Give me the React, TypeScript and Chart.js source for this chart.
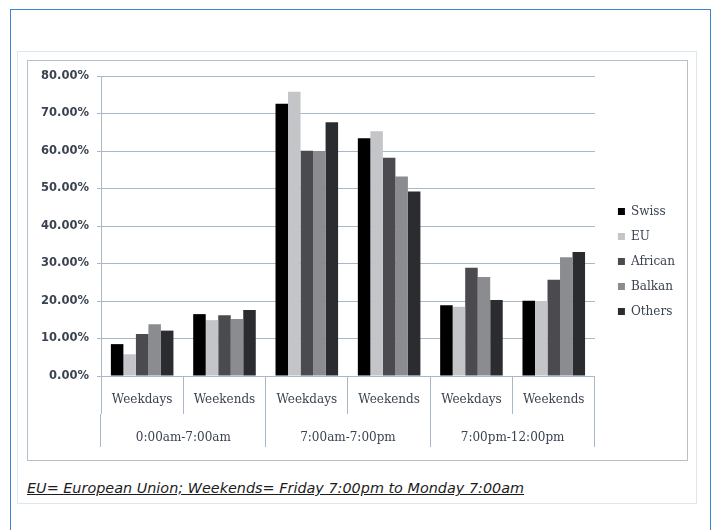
import React, { useEffect, useRef } from "react";
import { Chart, registerables } from "chart.js";

Chart.register(...registerables);

const categories = ["Weekdays", "Weekends", "Weekdays", "Weekends", "Weekdays", "Weekends"];
const periods = ["0:00am-7:00am", "7:00am-7:00pm", "7:00pm-12:00pm"];

const seriesNames = ["Swiss", "EU", "African", "Balkan", "Others"];
const swiss = [8.5, 16.5, 72.6, 63.4, 18.9, 20.1];
const eu = [5.8, 14.9, 75.8, 65.3, 18.5, 20.0];
const african = [11.2, 16.2, 60.1, 58.2, 28.9, 25.7];
const balkan = [13.8, 15.2, 60.0, 53.2, 26.4, 31.7];
const others = [12.1, 17.6, 67.7, 49.2, 20.3, 33.1];
const seriesColors = ["#000000", "#c4c5c8", "#4a4a4f", "#8b8c90", "#2b2c2f"];

const yMin = 0;
const yMax = 80;
const yStep = 10;

const caption = "EU= European Union; Weekends= Friday 7:00pm to Monday 7:00am";

const gridColor = "#a9b8c6";
const textColor = "#3a4350";

export default function App() {
  const canvasRef = useRef<HTMLCanvasElement | null>(null);

  useEffect(() => {
    if (!canvasRef.current) return;
    const values = [swiss, eu, african, balkan, others];
    const chart = new Chart(canvasRef.current, {
      type: "bar",
      data: {
        labels: categories,
        datasets: seriesNames.map((name, i) => ({
          label: name,
          data: values[i],
          backgroundColor: seriesColors[i],
          borderWidth: 0,
          barPercentage: 1,
          categoryPercentage: 0.76,
        })),
      },
      options: {
        animation: false,
        responsive: true,
        maintainAspectRatio: false,
        layout: { padding: { top: 15, right: 1, bottom: 0, left: 0 } },
        plugins: {
          tooltip: { enabled: false },
          legend: {
            position: "right",
            align: "center",
            labels: {
              boxWidth: 7,
              boxHeight: 7,
              padding: 13,
              color: textColor,
              font: { family: "'DejaVu Serif'", size: 12 },
            },
          },
        },
        scales: {
          x: {
            type: "category",
            position: "bottom",
            offset: true,
            grid: {
              offset: true,
              drawOnChartArea: false,
              drawTicks: true,
              tickLength: 38,
              color: gridColor,
              lineWidth: 1,
            },
            border: { display: true, color: gridColor },
            ticks: {
              autoSkip: false,
              maxRotation: 0,
              minRotation: 0,
              padding: -21,
              color: textColor,
              font: { family: "'DejaVu Serif'", size: 12 },
            },
            afterFit: (s: any) => {
              s.height = 38;
            },
          },
          x2: {
            type: "category",
            position: "bottom",
            labels: periods,
            offset: true,
            grid: {
              offset: true,
              drawOnChartArea: false,
              drawTicks: true,
              tickLength: 38,
              color: gridColor,
              lineWidth: 1,
            },
            border: { display: false },
            ticks: {
              autoSkip: false,
              maxRotation: 0,
              minRotation: 0,
              padding: -21,
              color: textColor,
              font: { family: "'DejaVu Serif'", size: 12 },
            },
            afterFit: (s: any) => {
              s.height = 33;
            },
          },
          y: {
            type: "linear",
            min: yMin,
            max: yMax,
            ticks: {
              stepSize: yStep,
              padding: 8,
              color: textColor,
              font: { family: "'DejaVu Sans'", size: 11.5, weight: "bold" },
              callback: (v: any) => Number(v).toFixed(2) + "%",
            },
            grid: { color: gridColor, tickLength: 4, lineWidth: 1 },
            border: { display: true, color: gridColor },
            afterFit: (s: any) => {
              s.width = 73;
            },
          },
          ySpacer: {
            type: "linear",
            position: "right",
            display: true,
            grid: { display: false, drawTicks: false },
            ticks: { display: false },
            border: { display: false },
            afterFit: (s: any) => {
              s.width = 10;
            },
          },
        },
      } as any,
    });
    return () => chart.destroy();
  }, []);

  return (
    <div
      style={{
        position: "absolute",
        left: 0,
        top: 0,
        width: 719,
        height: 530,
        overflow: "hidden",
        background: "#ffffff",
      }}
    >
      <div
        style={{
          position: "absolute",
          left: 10,
          top: 9,
          width: 701,
          height: 540,
          border: "1px solid #3d85cf",
          boxSizing: "border-box",
        }}
      />
      <div
        style={{
          position: "absolute",
          left: 17,
          top: 51,
          width: 680,
          height: 453,
          border: "1px solid #dce7ef",
          boxSizing: "border-box",
        }}
      />
      <div
        style={{
          position: "absolute",
          left: 27,
          top: 60,
          width: 661,
          height: 401,
          border: "1px solid #bcbfc3",
          boxSizing: "border-box",
        }}
      />
      <div
        style={{
          position: "absolute",
          left: 28,
          top: 61,
          width: 658,
          height: 386,
        }}
      >
        <canvas ref={canvasRef} />
      </div>
      <div
        style={{
          position: "absolute",
          left: 27,
          top: 478,
          fontFamily: "'DejaVu Sans'",
          fontStyle: "italic",
          fontSize: 14.4,
          color: "#1c1c1c",
          textDecoration: "underline",
          whiteSpace: "nowrap",
          lineHeight: "20px",
        }}
      >
        {caption}
      </div>
    </div>
  );
}
